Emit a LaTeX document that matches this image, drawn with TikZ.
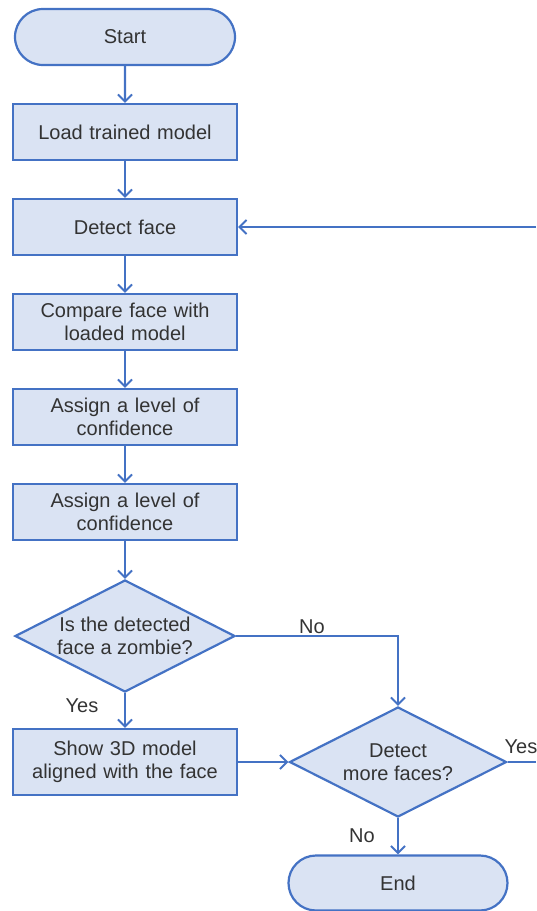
\documentclass[tikz,border=0pt]{standalone}
\usepackage{fontspec}
\setmainfont{Liberation Sans}
\usetikzlibrary{shapes.misc,shapes.geometric,arrows.meta}
\definecolor{flowline}{HTML}{4472C4}
\definecolor{flowfill}{HTML}{DAE3F3}
\definecolor{flowtext}{HTML}{333333}
\begin{document}
\begin{tikzpicture}[x=1pt,y=-1pt,
  font=\fontsize{20}{23}\selectfont, text=flowtext,
  base/.style={draw=flowline, fill=flowfill, line width=2.2pt, align=center, inner sep=2pt},
  procbox/.style={base, rectangle, minimum width=224pt, minimum height=56pt, text width=210pt},
  termbox/.style={base, rounded rectangle, minimum width=224pt, minimum height=56pt},
  decbox/.style={base, diamond, aspect=2, inner sep=0pt, minimum width=220pt, minimum height=112pt},
  flow/.style={draw=flowline, line width=2.2pt, -{Straight Barb[length=7pt,width=14pt,line width=2pt]}},
  plain/.style={draw=flowline, line width=2.2pt},
  lbl/.style={inner sep=0pt}]
  \useasboundingbox (0,0) rectangle (536,911);
  \clip (0,0) rectangle (536,911);

  % main column
  \node[termbox] (start) at (125,37) {Start};
  \node[procbox] (load) at (125,132) {Load trained model};
  \node[procbox] (detect) at (125,227) {Detect face};
  \node[procbox] (compare) at (125,322) {Compare face with\\loaded model};
  \node[procbox] (assignA) at (125,417) {Assign a level of\\confidence};
  \node[procbox] (assignB) at (125,512) {Assign a level of\\confidence};
  \node[decbox] (zombie) at (125,636) {Is the detected\\face a zombie?};
  \node[procbox, minimum height=66pt] (show) at (125,762) {Show 3D model\\aligned with the face};

  % right column
  \node[decbox, minimum width=217pt, minimum height=110pt] (more) at (398,762) {Detect\\more faces?};
  \node[termbox, minimum width=223pt, minimum height=55pt] (end) at (398,883) {End};

  % loop back to face detection
  \coordinate (loopout) at (536,762);
  \coordinate (loopin) at (536,227);

  % connectors
  \draw[flow] (start) -- (load);
  \draw[flow] (load) -- (detect);
  \draw[flow] (detect) -- (compare);
  \draw[flow] (compare) -- (assignA);
  \draw[flow] (assignA) -- (assignB);
  \draw[flow] (assignB) -- (zombie);
  \draw[flow] (zombie) -- (show);
  \draw[flow] (zombie.east) -| (more.north);
  \draw[flow] (show.east) -- (more.west);
  \draw[flow] (more) -- (end);
  \draw[plain] (more.east) -- (loopout);
  \draw[flow] (loopin) -- (detect.east);

  % branch labels
  \node[lbl] (yesA) at (82,706) {Yes};
  \node[lbl] (noA) at (312,627) {No};
  \node[lbl] (yesB) at (521,747) {Yes};
  \node[lbl] (noB) at (362,836) {No};
\end{tikzpicture}
\end{document}
